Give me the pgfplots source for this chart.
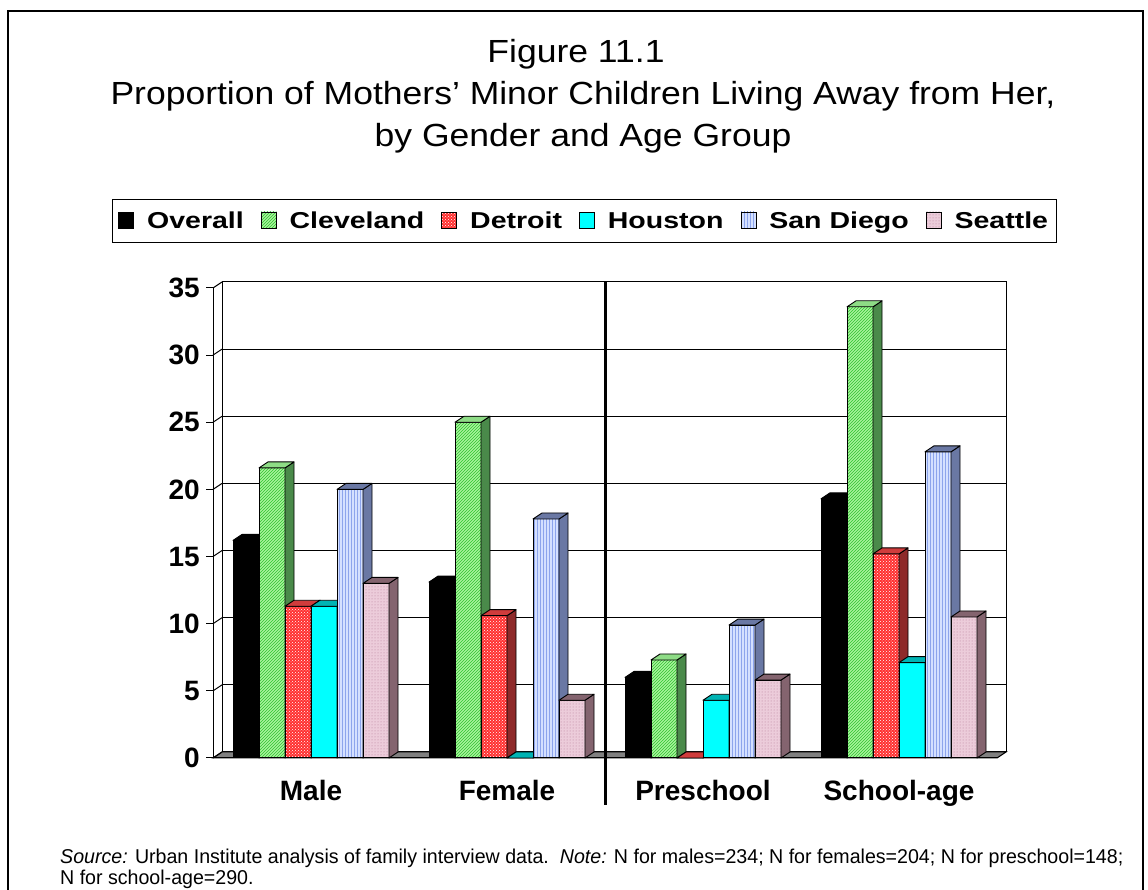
\documentclass[border=0pt]{standalone}
\usepackage{fontspec}
\setmainfont{Liberation Sans}
\newfontfamily\titlefont[FakeStretch=1.11]{Liberation Sans}
\newfontfamily\legfont[FakeStretch=1.24]{Liberation Sans}
\newfontfamily\footfont[FakeStretch=0.98]{Liberation Sans}
\usepackage{pgfplots}
\pgfplotsset{compat=1.18}
\usetikzlibrary{patterns}

\definecolor{clevF}{HTML}{A8F59C}
\definecolor{clevP}{HTML}{30C030}
\definecolor{clevS}{HTML}{4A8A4A}
\definecolor{clevT}{HTML}{8EDC86}
\definecolor{detF}{HTML}{FF3030}
\definecolor{detS}{HTML}{8E2A2A}
\definecolor{detT}{HTML}{D03C3C}
\definecolor{houF}{HTML}{00FFFF}
\definecolor{houS}{HTML}{00B4B4}
\definecolor{sdF}{HTML}{D4E0FF}
\definecolor{sdP}{HTML}{8CA4EC}
\definecolor{sdS}{HTML}{6A78A4}
\definecolor{seaF}{HTML}{ECCCDA}
\definecolor{seaP}{HTML}{B87C98}
\definecolor{seaS}{HTML}{84646F}

% top face and side face of a 3-D bar, drawn at the bar top
\newcommand\threed[3]{\tikz[x=1pt,y=1pt,baseline=0pt]{\path (0,0);
  \filldraw[overlay,fill=#2,draw=black,line width=0.9pt,line join=round]
     (13,0) -- (22,6) -- (22,{6-#3*13.42857}) -- (13,{-#3*13.42857}) -- cycle;
  \filldraw[overlay,fill=#1,draw=black,line width=0.9pt,line join=round]
     (-13,0) -- (-4,6) -- (22,6) -- (13,0) -- cycle;}}

\pgfplotsset{
  bar3d/.style n args={3}{
    bar shift=#3,
    visualization depends on={rawy \as \rawy},
    nodes near coords={\threed{#1}{#2}{\rawy}},
    every node near coord/.style={inner sep=0pt, outer sep=0pt, anchor=center, xshift=#3},
  },
  front/.style={
    at={(213pt,132pt)}, anchor=south west,
    scale only axis, width=784pt, height=470pt,
    xmin=-0.5, xmax=3.5, ymin=0, ymax=35,
    clip=false, ybar, bar width=26pt,
  },
  sOverall/.style={fill=black, draw=black, line width=1pt},
  sCleveland/.style={fill=clevF, draw=black, line width=1pt, postaction={pattern=north east lines, pattern color=clevP}},
  sDetroit/.style={fill=detF, draw=black, line width=1pt, postaction={pattern=crosshatch dots, pattern color=white}},
  sHouston/.style={fill=houF, draw=black, line width=1pt},
  sSanDiego/.style={fill=sdF, draw=black, line width=1pt, postaction={pattern=vertical lines, pattern color=sdP}},
  sSeattle/.style={fill=seaF, draw=black, line width=1pt, postaction={pattern=dots, pattern color=seaP}},
}

\begin{document}
\begin{tikzpicture}[x=1pt,y=1pt]
\path[use as bounding box] (0,0) rectangle (1148,890);
% outer frame
\draw[line width=2pt] (8,-2) -- (8,879) -- (1143,879) -- (1143,-2);

% title
\node[anchor=base] at (576,827) {\titlefont\fontsize{32}{40}\selectfont Figure 11.1};
\node[anchor=base] at (583,785) {\titlefont\fontsize{32}{40}\selectfont Proportion of Mothers’ Minor Children Living Away from Her,};
\node[anchor=base] at (583,743) {\titlefont\fontsize{32}{40}\selectfont by Gender and Age Group};

% back wall with gridlines
\begin{axis}[
  at={(222pt,138pt)}, anchor=south west,
  scale only axis, width=784pt, height=470pt,
  xmin=-0.5, xmax=3.5, ymin=0, ymax=35,
  xtick=\empty, ytick={0,5,...,35}, yticklabels={},
  major tick length=0pt,
  ymajorgrids, grid style={black, line width=1pt},
  axis line style={black, line width=1pt},
]
\end{axis}

% floor
\filldraw[fill=black!50, draw=black, line width=1pt] (213,132) -- (222,138) -- (1006,138) -- (997,132) -- cycle;
% left wall edges
\foreach \k in {0,...,7} {\draw[line width=1pt] (213,{132+\k*67.142857}) -- ++(9,6);}

% front axis with ticks, and the first series
\begin{axis}[front,
  axis lines=left, axis line style={-, black, line width=1pt},
  xtick={0,1,2,3},
  xticklabels={Male,Female,Preschool,School-age},
  x tick style={draw=none},
  extra x ticks={-0.5,0.5,1.5,2.5,3.5}, extra x tick labels={},
  extra x tick style={major tick length=7pt, tick style={draw=black, line width=1pt}},
  ytick={0,5,...,35},
  y tick style={black, line width=1pt},
  tick align=outside, major tick length=7pt,
  /pgf/number format/assume math mode=true,
  yticklabel style={font=\fontsize{28}{28}\selectfont\bfseries, inner sep=0pt, anchor=east, xshift=-6pt},
  xticklabel style={font=\fontsize{28}{28}\selectfont\bfseries, inner sep=0pt, anchor=base, yshift=-36pt},
]
\addplot[sOverall, bar3d={black}{black}{-65pt}]
  coordinates {(0,16.2) (1,13.1) (2,6.0) (3,19.3)};
\end{axis}
% one axis per series so that each bar's depth is drawn before the next series
\begin{axis}[front, hide axis]
\addplot[sCleveland, bar3d={clevT}{clevS}{-39pt}]
  coordinates {(0,21.6) (1,25.0) (2,7.3) (3,33.6)};
\end{axis}
\begin{axis}[front, hide axis]
\addplot[sDetroit, bar3d={detT}{detS}{-13pt}]
  coordinates {(0,11.3) (1,10.6) (2,0) (3,15.2)};
\end{axis}
\begin{axis}[front, hide axis]
\addplot[sHouston, bar3d={houS}{houS}{13pt}]
  coordinates {(0,11.3) (1,0) (2,4.3) (3,7.1)};
\end{axis}
\begin{axis}[front, hide axis]
\addplot[sSanDiego, bar3d={sdS}{sdS}{39pt}]
  coordinates {(0,20.0) (1,17.8) (2,9.9) (3,22.8)};
\end{axis}
\begin{axis}[front, hide axis,
  legend columns=6,
  legend style={at={(axis description cs:0.4735,1)}, anchor=center, yshift=67pt,
    draw=black, line width=1pt, inner xsep=6pt, inner ysep=10pt,
    font=\legfont\bfseries\fontsize{23}{24}\selectfont,
    nodes={inner sep=2pt},
    /tikz/every odd column/.append style={column sep=11pt},
    /tikz/every even column/.append style={column sep=15pt}},
  legend image code/.code={\draw[#1, line width=0.8pt] (0pt,-7pt) rectangle (15pt,9pt);},
]
\addlegendimage{sOverall}
\addlegendimage{sCleveland}
\addlegendimage{sDetroit}
\addlegendimage{sHouston}
\addlegendimage{sSanDiego}
\addplot[sSeattle, bar3d={seaS}{seaS}{65pt}]
  coordinates {(0,13.0) (1,4.3) (2,5.8) (3,10.5)};
\legend{Overall,Cleveland,Detroit,Houston,San Diego,Seattle}
\end{axis}

% separator between gender and age groups
\draw[line width=3pt] (605,608) -- (605,85);

% footnote
\node[anchor=base west, inner sep=0pt] at (60,26) {\footfont\fontsize{20}{22}\selectfont\textit{Source:} Urban Institute analysis of family interview data.\ \ \textit{Note:} N for males=234; N for females=204; N for preschool=148;};
\node[anchor=base west, inner sep=0pt] at (60,5) {\footfont\fontsize{20}{22}\selectfont N for school-age=290.};
\end{tikzpicture}
\end{document}
